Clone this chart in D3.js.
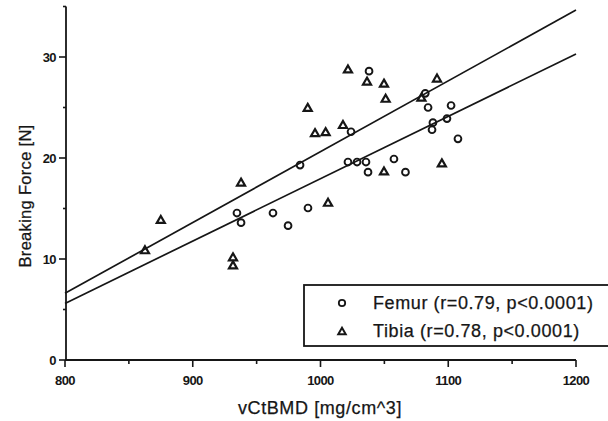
<!DOCTYPE html>
<html>
<head>
<meta charset="utf-8">
<script src="https://cdn.jsdelivr.net/npm/d3@7"></script>
<style>
  html, body { margin: 0; padding: 0; background: #fff; }
  svg { display: block; }
  text { font-family: "Liberation Sans", Arial, Helvetica, sans-serif; fill: #161616; }
</style>
</head>
<body>
<svg id="chart" width="608" height="421"></svg>
<script>
// Femur: vCtBMD [mg/cm^3] and breaking force [N]
const femurBMD   = [934.6, 937.8, 962.8, 974.6, 984.0, 990.2, 1021.5, 1023.9, 1028.6, 1035.6,
                    1037.2, 1038.0, 1057.5, 1066.5, 1082.0, 1084.2, 1087.3, 1088.0, 1099.0, 1102.2, 1107.6];
const femurForce = [14.55, 13.6, 14.55, 13.3, 19.3, 15.05, 19.6, 22.6, 19.6, 19.6,
                    18.6, 28.6, 19.9, 18.6, 26.4, 25.0, 22.8, 23.5, 23.9, 25.2, 21.9];

// Tibia: vCtBMD [mg/cm^3] and breaking force [N]
const tibiaBMD   = [862.6, 875.0, 931.5, 931.5, 937.8, 990.0, 995.7, 1004.0, 1005.9, 1017.6,
                    1021.5, 1036.4, 1049.7, 1051.0, 1049.7, 1079.0, 1091.2, 1095.0];
const tibiaForce = [10.9, 13.9, 10.2, 9.4, 17.6, 25.0, 22.5, 22.6, 15.6, 23.3,
                    28.8, 27.6, 27.4, 25.9, 18.7, 26.0, 27.9, 19.5];

// Linear fits: [BMD, force] at both ends of the axis range
const femurFit = [[800, 5.6], [1200, 30.3]];
const tibiaFit = [[800, 6.6], [1200, 34.65]];

// Axis ticks
const xMajorTicks = [800, 900, 1000, 1100, 1200];
const xMinorTicks = [850, 950, 1050, 1150];
const yMajorTicks = [0, 10, 20, 30];
const yMinorTicks = [5, 15, 25, 35];

const legendLabels = ["Femur (r=0.79, p<0.0001)", "Tibia (r=0.78, p<0.0001)"];

const svg = d3.select("#chart");
const ink = "#161616";

const x = d3.scaleLinear().domain([800, 1200]).range([65, 576]);
const y = d3.scaleLinear().domain([0, 35]).range([360, 6.5]);

// Axes
const xAxis = svg.append("g").attr("transform", `translate(0,${y(0)})`);
xAxis.append("line").attr("x1", x(800)).attr("x2", x(1200))
  .attr("stroke", ink).attr("stroke-width", 1.8);
xAxis.selectAll(".xmaj").data(xMajorTicks).join("line")
  .attr("x1", d => x(d)).attr("x2", d => x(d)).attr("y1", 0).attr("y2", 7)
  .attr("stroke", ink).attr("stroke-width", 1.6);
xAxis.selectAll(".xmin").data(xMinorTicks).join("line")
  .attr("x1", d => x(d)).attr("x2", d => x(d)).attr("y1", 0).attr("y2", 4)
  .attr("stroke", ink).attr("stroke-width", 1.6);
xAxis.selectAll("text").data(xMajorTicks).join("text")
  .attr("x", d => x(d)).attr("y", 25)
  .attr("text-anchor", "middle").attr("font-size", 13).attr("font-weight", "bold")
  .attr("letter-spacing", -0.6)
  .text(d => d);

const yAxis = svg.append("g").attr("transform", `translate(${x(800) + 1},0)`);
yAxis.append("line").attr("y1", y(0)).attr("y2", y(35))
  .attr("stroke", ink).attr("stroke-width", 1.8);
yAxis.selectAll(".ymaj").data(yMajorTicks).join("line")
  .attr("y1", d => y(d)).attr("y2", d => y(d)).attr("x1", 0).attr("x2", -7)
  .attr("stroke", ink).attr("stroke-width", 1.6);
yAxis.selectAll(".ymin").data(yMinorTicks).join("line")
  .attr("y1", d => y(d)).attr("y2", d => y(d)).attr("x1", 0).attr("x2", -3)
  .attr("stroke", ink).attr("stroke-width", 1.6);
yAxis.selectAll("text").data(yMajorTicks).join("text")
  .attr("x", -10).attr("y", d => y(d) + 5)
  .attr("text-anchor", "end").attr("font-size", 13).attr("font-weight", "bold")
  .attr("letter-spacing", -0.6)
  .text(d => d);

// Axis titles
svg.append("text")
  .attr("x", 320).attr("y", 414)
  .attr("text-anchor", "middle").attr("font-size", 18).attr("letter-spacing", 0.6)
  .attr("stroke", ink).attr("stroke-width", 0.25)
  .text("vCtBMD [mg/cm^3]");
svg.append("text")
  .attr("transform", "translate(31,196) rotate(-90)")
  .attr("text-anchor", "middle").attr("font-size", 16.5).attr("letter-spacing", 0.3)
  .attr("stroke", ink).attr("stroke-width", 0.25)
  .text("Breaking Force [N]");

// Regression lines
const line = d3.line().x(d => x(d[0])).y(d => y(d[1]));
[tibiaFit, femurFit].forEach(fit => {
  svg.append("path").attr("d", line(fit))
    .attr("fill", "none").attr("stroke", ink).attr("stroke-width", 1.7);
});

// Markers
const triangle = d3.symbol().type(d3.symbolTriangle).size(28);

svg.append("g").selectAll("path")
  .data(tibiaBMD.map((b, i) => [b, tibiaForce[i]]))
  .join("path")
  .attr("d", triangle)
  .attr("transform", d => `translate(${x(d[0])},${y(d[1]) + 1})`)
  .attr("fill", "none").attr("stroke", ink).attr("stroke-width", 2.2);

svg.append("g").selectAll("circle")
  .data(femurBMD.map((b, i) => [b, femurForce[i]]))
  .join("circle")
  .attr("cx", d => x(d[0])).attr("cy", d => y(d[1]))
  .attr("r", 3.4)
  .attr("fill", "none").attr("stroke", ink).attr("stroke-width", 1.9);

// Legend
const legend = svg.append("g");
legend.append("rect")
  .attr("x", 304).attr("y", 285).attr("width", 310).attr("height", 61)
  .attr("fill", "#fff").attr("stroke", ink).attr("stroke-width", 1.8);
legend.append("circle").attr("cx", 342).attr("cy", 303).attr("r", 3.2)
  .attr("fill", "none").attr("stroke", ink).attr("stroke-width", 1.8);
legend.append("path").attr("d", d3.symbol().type(d3.symbolTriangle).size(24))
  .attr("transform", "translate(342,332)")
  .attr("fill", "none").attr("stroke", ink).attr("stroke-width", 2);
legend.selectAll("text").data(legendLabels).join("text")
  .attr("x", 373).attr("y", (d, i) => 309 + i * 28)
  .attr("font-size", 18).attr("letter-spacing", 0.6)
  .attr("stroke", ink).attr("stroke-width", 0.25)
  .text(d => d);
</script>
</body>
</html>
